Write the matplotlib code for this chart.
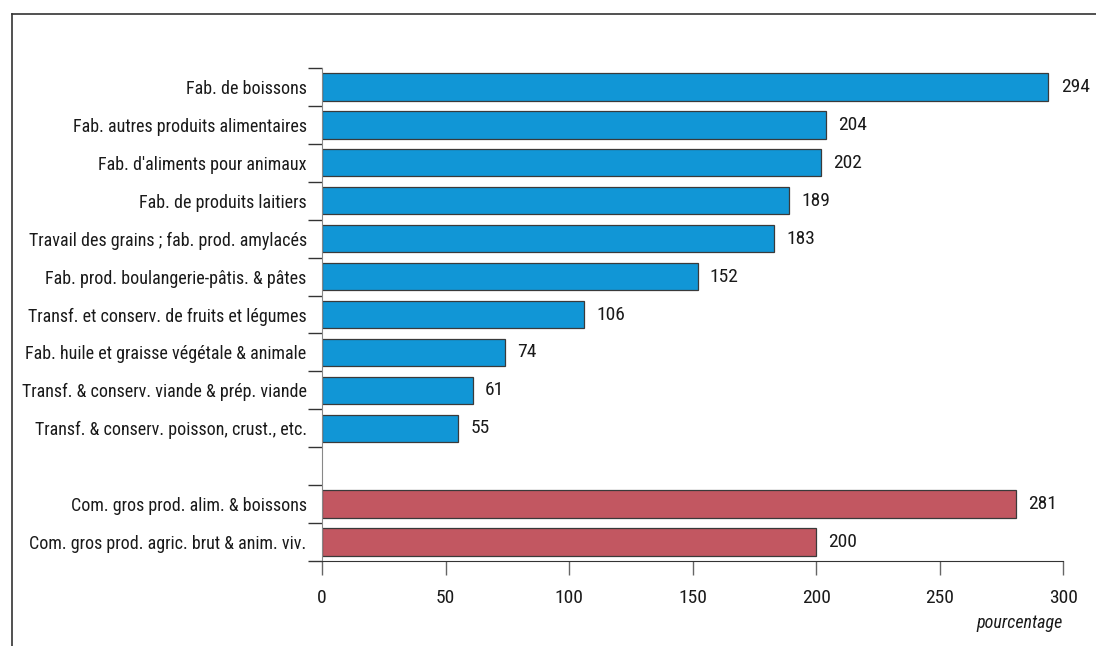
import matplotlib.pyplot as plt
import numpy as np

# Secteurs (de haut en bas) et valeurs en pourcentage
secteurs_ind = [
    "Fab. de boissons",
    "Fab. autres produits alimentaires",
    "Fab. d'aliments pour animaux",
    "Fab. de produits laitiers",
    "Travail des grains ; fab. prod. amylacés",
    "Fab. prod. boulangerie-pâtis. & pâtes",
    "Transf. et conserv. de fruits et légumes",
    "Fab. huile et graisse végétale & animale",
    "Transf. & conserv. viande & prép. viande",
    "Transf. & conserv. poisson, crust., etc.",
]
valeurs_ind = [294, 204, 202, 189, 183, 152, 106, 74, 61, 55]

secteurs_com = [
    "Com. gros prod. alim. & boissons",
    "Com. gros prod. agric. brut & anim. viv.",
]
valeurs_com = [281, 200]

bleu = "#1196d6"
rouge = "#c25761"

plt.rcParams['font.family'] = ['Roboto Condensed', 'DejaVu Sans']

fig = plt.figure(figsize=(10.96, 6.46), dpi=100)
ax = fig.add_axes([0.2938, 0.1316, 0.970 - 0.2938, 0.8947 - 0.1316])

# une ligne vide entre les deux groupes
pos_ind = np.arange(len(secteurs_ind))
pos_com = np.arange(len(secteurs_com)) + len(secteurs_ind) + 1
n_lignes = len(secteurs_ind) + 1 + len(secteurs_com)

ax.barh(pos_ind, valeurs_ind, height=0.72, color=bleu, edgecolor="#3a3a3a", linewidth=0.9)
ax.barh(pos_com, valeurs_com, height=0.72, color=rouge, edgecolor="#3a3a3a", linewidth=0.9)

for p, v in zip(list(pos_ind) + list(pos_com), valeurs_ind + valeurs_com):
    ax.text(v + 5, p, str(v), va="center", ha="left", fontsize=14, color="#1a1a1a")

ax.set_ylim(n_lignes - 0.5, -0.5)
ax.set_xlim(0, 300)
ax.set_xticks([0, 50, 100, 150, 200, 250, 300])

ax.set_yticks(list(pos_ind) + list(pos_com))
ax.set_yticklabels(secteurs_ind + secteurs_com, fontsize=13, color="#1a1a1a")
ax.set_yticks(np.arange(n_lignes + 1) - 0.5, minor=True)
ax.tick_params(axis="y", which="major", length=0, pad=11)
ax.tick_params(axis="y", which="minor", length=10, width=1, color="#333333")
ax.tick_params(axis="x", length=10, width=1, color="#666666", labelsize=14,
               labelcolor="#1a1a1a", pad=10)

for s in ("top", "right"):
    ax.spines[s].set_visible(False)
ax.spines["left"].set_color("#888888")
ax.spines["bottom"].set_color("#333333")

ax.text(1.0, -0.108, "pourcentage", transform=ax.transAxes, ha="right", va="top",
        fontsize=13, style="italic", color="#1a1a1a")

# cadre gauche et haut
fig.add_artist(plt.Line2D([0.011, 0.011], [0.0, 0.978], color="#333333", lw=1.2))
fig.add_artist(plt.Line2D([0.011, 1.0], [0.978, 0.978], color="#333333", lw=1.2))

fig.savefig("out.png", dpi=100)
